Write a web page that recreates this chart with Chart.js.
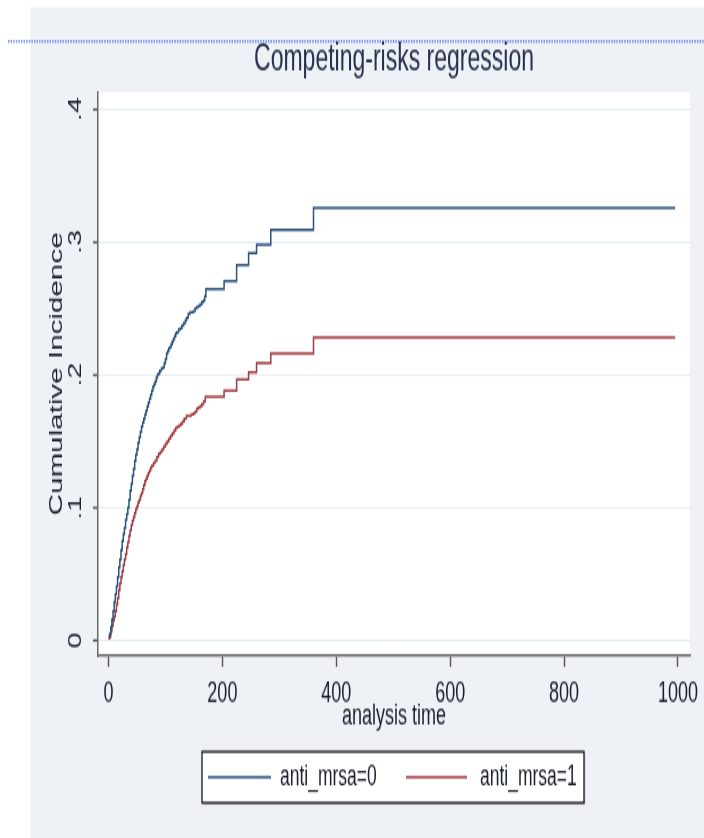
<!DOCTYPE html>
<html>
<head>
<meta charset="utf-8">
<script src="https://cdn.jsdelivr.net/npm/chart.js@4"></script>
<style>
  html, body { margin: 0; padding: 0; background: #fff; }
  #page { position: relative; width: 704px; height: 838px; overflow: hidden; }
  /* the reference picture is stretched vertically, so the whole chart is too */
  #wrap { position: absolute; left: 0; top: 0; width: 704px; height: 524px;
          transform: scaleY(1.5992); transform-origin: 0 0; }
</style>
</head>
<body>
<div id="page"><div id="wrap"><canvas id="cif" width="704" height="524"></canvas></div></div>
<script>
const seriesLabels = ['anti_mrsa=0', 'anti_mrsa=1'];

// analysis time / cumulative incidence
const timeNoMrsa = [0, 2, 4, 6, 8, 10, 12, 14, 16, 18, 20, 22, 24, 26, 28, 30, 32, 34, 36, 38, 40,
  42, 44, 46, 48, 50, 52, 54, 56, 58, 60, 62, 64, 66, 68, 70, 72, 74, 76, 78, 80, 82, 84, 86, 88,
  90, 93, 96, 98, 100, 102, 104, 106, 108, 110, 112, 114, 116, 118, 120, 123, 126, 129, 132, 135,
  137, 140, 143, 146, 149, 152, 155, 158, 161, 164, 167, 169, 171, 203, 225, 246, 260, 285, 360, 995];
const cifNoMrsa = [0.003, 0.005, 0.01, 0.016, 0.022, 0.029, 0.035, 0.041, 0.048, 0.055, 0.061,
  0.068, 0.075, 0.08, 0.085, 0.091, 0.095, 0.1, 0.106, 0.113, 0.118, 0.124, 0.129, 0.135, 0.14,
  0.144, 0.149, 0.153, 0.157, 0.161, 0.164, 0.167, 0.17, 0.173, 0.176, 0.179, 0.182, 0.185, 0.188,
  0.191, 0.193, 0.195, 0.198, 0.2, 0.201, 0.203, 0.205, 0.206, 0.209, 0.212, 0.216, 0.218, 0.22,
  0.221, 0.223, 0.225, 0.227, 0.229, 0.231, 0.232, 0.234, 0.235, 0.237, 0.239, 0.241, 0.243, 0.246,
  0.247, 0.247, 0.248, 0.25, 0.251, 0.252, 0.253, 0.255, 0.256, 0.259, 0.2645, 0.2707, 0.2825,
  0.2915, 0.298, 0.309, 0.3255, 0.3255];

const timeMrsa = [0, 2, 4, 6, 8, 10, 12, 14, 16, 18, 20, 22, 24, 26, 28, 30, 32, 34, 36, 38, 40, 42,
  44, 46, 48, 50, 52, 54, 56, 58, 60, 62, 64, 66, 68, 70, 72, 74, 76, 79, 82, 85, 88, 91, 94, 97,
  100, 103, 106, 109, 112, 115, 118, 121, 124, 127, 130, 133, 137, 141, 145, 149, 152, 155, 158,
  161, 164, 167, 170, 203, 225, 246, 260, 285, 360, 995];
const cifMrsa = [0.0015, 0.003, 0.007, 0.011, 0.015, 0.018, 0.022, 0.027, 0.032, 0.038, 0.043,
  0.048, 0.052, 0.057, 0.061, 0.065, 0.07, 0.074, 0.079, 0.083, 0.087, 0.09, 0.093, 0.096, 0.099,
  0.101, 0.104, 0.106, 0.109, 0.111, 0.114, 0.117, 0.12, 0.122, 0.124, 0.126, 0.128, 0.13, 0.1315,
  0.1335, 0.1355, 0.138, 0.1405, 0.142, 0.144, 0.146, 0.148, 0.15, 0.152, 0.154, 0.156, 0.158, 0.16,
  0.161, 0.162, 0.163, 0.165, 0.167, 0.169, 0.169, 0.17, 0.171, 0.172, 0.1745, 0.1755, 0.1765,
  0.178, 0.18, 0.1835, 0.188, 0.1965, 0.202, 0.209, 0.216, 0.228, 0.228];

const xTicks = [0, 200, 400, 600, 800, 1000];
const xTickLabels = ['0', '200', '400', '600', '800', '1000'];
const yTicks = [0, 0.1, 0.2, 0.3, 0.4];
const yTickLabels = ['0', '.1', '.2', '.3', '.4'];

const FONT = "'Liberation Sans', Arial, sans-serif";
const INK = '#1b2030';
const colors = ['rgb(40, 82, 124)', 'rgb(162, 58, 66)'];

Chart.defaults.font.family = FONT;
Chart.defaults.color = INK;

function toPoints(ts, vs) {
  return ts.map((t, i) => ({ x: t, y: vs[i] }));
}

const backdrop = {
  id: 'backdrop',
  beforeDraw(chart) {
    const { ctx, chartArea: a } = chart;
    ctx.save();
    ctx.fillStyle = '#eef1f6';
    ctx.fillRect(30.7, 4.6, chart.width - 30.7, chart.height - 4.6);
    ctx.fillStyle = '#ffffff';
    ctx.fillRect(a.left, a.top, a.right - a.left, a.bottom - a.top);
    // dotted rule across the top of the slide
    ctx.strokeStyle = '#2f62ea';
    ctx.lineWidth = 1.3;
    ctx.setLineDash([1.4, 1.2]);
    ctx.beginPath();
    ctx.moveTo(8, 25.8);
    ctx.lineTo(chart.width, 25.8);
    ctx.stroke();
    ctx.restore();
  }
};

const boxLegend = {
  id: 'boxLegend',
  afterDraw(chart) {
    const ctx = chart.ctx;
    const x0 = 202, y0 = 470, w = 382, h = 32, yMid = 486;
    const slots = [{ x1: 208, x2: 271, tx: 280 }, { x1: 406, x2: 467, tx: 480 }];
    ctx.save();
    ctx.fillStyle = '#c9cdd3';
    ctx.fillRect(x0 + 1.5, y0 + 1.2, w, h);
    ctx.fillStyle = '#ffffff';
    ctx.fillRect(x0, y0, w, h);
    ctx.strokeStyle = '#151515';
    ctx.lineWidth = 1.3;
    ctx.strokeRect(x0, y0, w, h);
    ctx.font = '17.5px ' + FONT;
    ctx.textBaseline = 'middle';
    chart.data.datasets.forEach((ds, i) => {
      const s = slots[i];
      ctx.strokeStyle = ds.borderColor;
      ctx.lineWidth = 1.4;
      ctx.beginPath();
      ctx.moveTo(s.x1, yMid);
      ctx.lineTo(s.x2, yMid);
      ctx.stroke();
      ctx.fillStyle = INK;
      ctx.fillText(ds.label, s.tx, yMid);
    });
    ctx.restore();
  }
};

new Chart(document.getElementById('cif'), {
  type: 'line',
  data: {
    datasets: [
      {
        label: seriesLabels[0],
        data: toPoints(timeNoMrsa, cifNoMrsa),
        borderColor: colors[0],
        borderWidth: 1.5,
        stepped: true,
        pointRadius: 0,
        fill: false
      },
      {
        label: seriesLabels[1],
        data: toPoints(timeMrsa, cifMrsa),
        borderColor: colors[1],
        borderWidth: 1.5,
        stepped: true,
        pointRadius: 0,
        fill: false
      }
    ]
  },
  options: {
    responsive: false,
    animation: false,
    layout: { padding: { left: 0, top: 0, right: 14, bottom: 0 } },
    scales: {
      x: {
        type: 'linear',
        min: -18.4,
        max: 1021.1,
        afterFit(scale) {
          scale.height = 114;
          scale.paddingLeft = 0;
          scale.paddingRight = 0;
        },
        afterBuildTicks(scale) { scale.ticks = xTicks.map(v => ({ value: v })); },
        ticks: {
          font: { size: 18 },
          padding: 6.4,
          maxRotation: 0,
          color: INK,
          callback: v => xTickLabels[xTicks.indexOf(v)]
        },
        grid: { drawOnChartArea: false, tickLength: 7, tickColor: '#555', tickWidth: 1.4 },
        border: { display: true, color: '#666', width: 1.5 },
        title: {
          display: true,
          text: 'analysis time',
          font: { size: 18 },
          color: INK,
          padding: { top: 0, bottom: 65.5 }
        }
      },
      y: {
        type: 'linear',
        min: -0.01143,
        max: 0.4129,
        afterFit(scale) {
          scale.width = 98;
          scale.paddingTop = 0;
          scale.paddingBottom = 0;
        },
        afterBuildTicks(scale) { scale.ticks = yTicks.map(v => ({ value: v })); },
        ticks: {
          font: { size: 18 },
          minRotation: 90,
          maxRotation: 90,
          crossAlign: 'center',
          padding: 9.5,
          color: INK,
          callback: v => yTickLabels[yTicks.indexOf(v)]
        },
        grid: { color: '#e6edf5', lineWidth: 1, tickLength: 5, tickColor: '#555', tickWidth: 1.4 },
        border: { display: true, color: '#666', width: 1.5 },
        title: {
          display: true,
          text: 'Cumulative Incidence',
          font: { size: 18.5 },
          color: INK,
          padding: { top: 45.9, bottom: 0 }
        }
      }
    },
    plugins: {
      legend: { display: false },
      tooltip: { enabled: false },
      title: {
        display: true,
        fullSize: false,
        text: 'Competing-risks regression',
        font: { size: 23, weight: 'normal' },
        color: '#26324d',
        padding: { top: 24, bottom: 5.9 }
      }
    }
  },
  plugins: [backdrop, boxLegend]
});
</script>
</body>
</html>
